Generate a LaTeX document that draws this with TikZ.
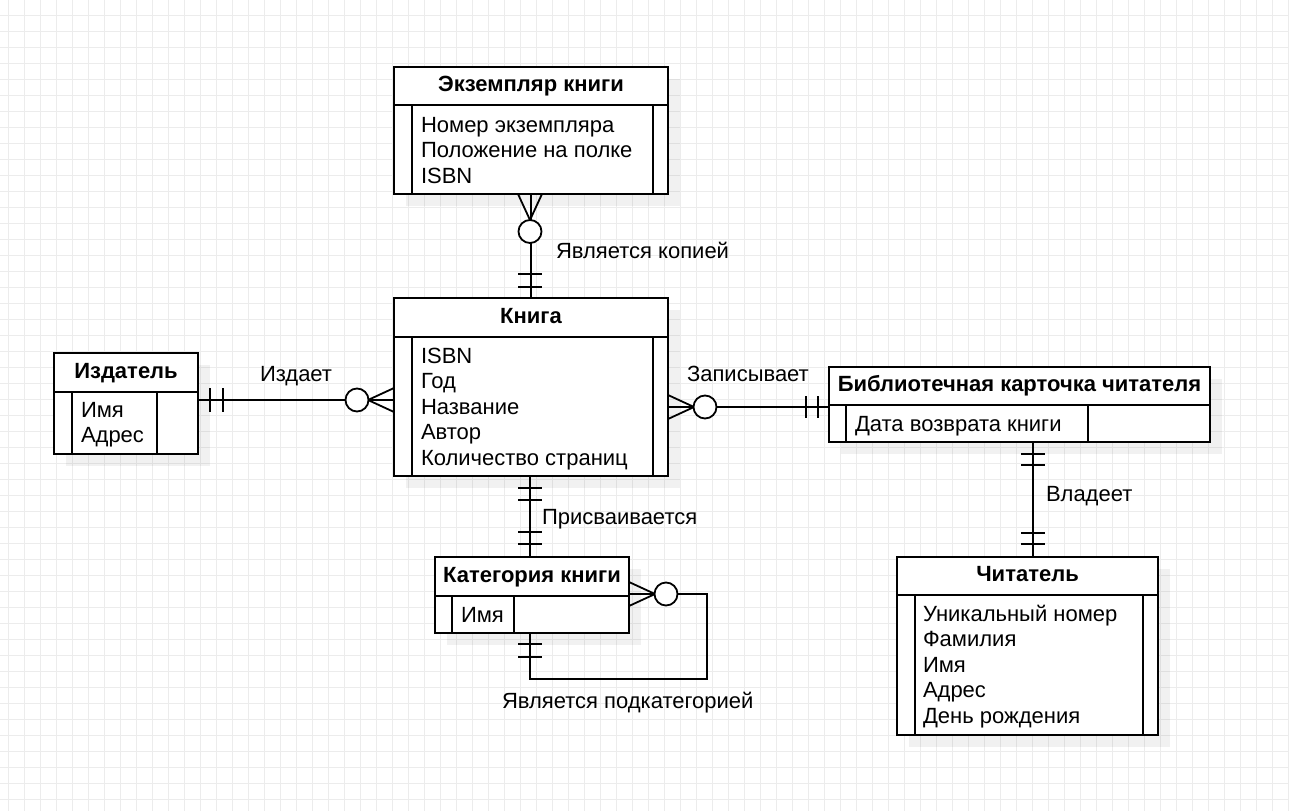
\documentclass[tikz,border=0pt]{standalone}
\usepackage{fontspec}
\setmainfont{Liberation Sans}
\usetikzlibrary{shadows}
\definecolor{gridc}{RGB}{236,236,236}
\tikzset{
  gridline/.style={draw=gridc, line width=1pt},
  ebox/.style={draw=black, fill=white, line width=1.8pt, outer sep=0pt, inner sep=0pt,
    anchor=north west,
    drop shadow={shadow xshift=12pt, shadow yshift=-12pt, fill=black, opacity=0.055}},
  eline/.style={draw=black, line width=1.8pt},
  conn/.style={draw=black, line width=1.8pt},
  txt/.style={font=\fontsize{22}{25}\selectfont, inner sep=0pt, outer sep=0pt},
  htxt/.style={txt, font=\fontsize{22}{25}\selectfont\bfseries, anchor=base},
  attr/.style={txt, anchor=base west},
  lbl/.style={txt, anchor=base west},
  zcirc/.style={draw=black, fill=white, line width=1.8pt},
}
% attributes: name prefix, x, first baseline, list
\newcommand{\attrlist}[4]{%
  \foreach \t [count=\i from 0] in {#4} {
    \node[attr] (#1-\i) at (#2,{#3+25.6*\i}) {\t};
  }%
}
\begin{document}
\begin{tikzpicture}[x=1pt,y=-1pt]
\useasboundingbox (0,0) rectangle (1289,811);
\fill[white] (0,0) rectangle (1289,811);
% grid
\foreach \gx in {8,24,...,1288} { \draw[gridline] (\gx,0) -- (\gx,811); }
\foreach \gy in {15,31,...,811} { \draw[gridline] (0,\gy) -- (1289,\gy); }

% ---------- entities ----------
% Экземпляр книги
\node[ebox, minimum width=274pt, minimum height=127pt] (ekz) at (394,67) {};
\draw[eline] (394,105) -- (668,105);
\draw[eline] (412,105) -- (412,194);
\draw[eline] (653,105) -- (653,194);
\node[htxt] (ekz-h) at (531,91.5) {Экземпляр книги};
\attrlist{ekza}{421}{132}{Номер экземпляра,Положение на полке,ISBN}

% Книга
\node[ebox, minimum width=274pt, minimum height=178pt] (kniga) at (394,298) {};
\draw[eline] (394,337) -- (668,337);
\draw[eline] (412,337) -- (412,476);
\draw[eline] (653,337) -- (653,476);
\node[htxt] (kniga-h) at (531,323.5) {Книга};
\attrlist{knigaa}{421}{363}{ISBN,Год,Название,Автор,Количество страниц}

% Издатель
\node[ebox, minimum width=144pt, minimum height=101pt] (izd) at (54,353) {};
\draw[eline] (54,392) -- (198,392);
\draw[eline] (72,392) -- (72,454);
\draw[eline] (157,392) -- (157,454);
\node[htxt] (izd-h) at (126,378.5) {Издатель};
\attrlist{izda}{81}{417}{Имя,Адрес}

% Категория книги
\node[ebox, minimum width=194pt, minimum height=76pt] (kat) at (435,557) {};
\draw[eline] (435,596) -- (629,596);
\draw[eline] (452,596) -- (452,633);
\draw[eline] (514,596) -- (514,633);
\node[htxt] (kat-h) at (532,582.5) {Категория книги};
\attrlist{kata}{461}{622}{Имя}

% Библиотечная карточка читателя
\node[ebox, minimum width=381pt, minimum height=75pt] (kart) at (829,367) {};
\draw[eline] (829,405) -- (1210,405);
\draw[eline] (846,405) -- (846,442);
\draw[eline] (1088,405) -- (1088,442);
\node[htxt] (kart-h) at (1019.5,391.5) {Библиотечная карточка читателя};
\attrlist{karta}{855}{431}{Дата возврата книги}

% Читатель
\node[ebox, minimum width=261pt, minimum height=178pt] (chit) at (897,557) {};
\draw[eline] (897,595) -- (1158,595);
\draw[eline] (915,595) -- (915,735);
\draw[eline] (1143,595) -- (1143,735);
\node[htxt] (chit-h) at (1027.5,581.5) {Читатель};
\attrlist{chita}{923}{621}{Уникальный номер,Фамилия,Имя,Адрес,День рождения}

% ---------- connectors ----------
% Экземпляр -- Книга
\draw[conn] (ekz.south |- 0,194) -- (kniga.north);
\draw[conn] (518,194) -- (530,220) -- (542,194);
\node[zcirc, circle, minimum size=23pt, inner sep=0pt] (c1) at (530,231.5) {};
\draw[conn] (518,274) -- (542,274);
\draw[conn] (518,287) -- (542,287);
\node[lbl] (l1) at (556,258) {Является копией};

% Издатель -- Книга
\draw[conn] (izd.east |- 0,400) -- (kniga.west |- 0,400);
\draw[conn] (210,388) -- (210,412);
\draw[conn] (223,388) -- (223,412);
\draw[conn] (394,388) -- (368,400) -- (394,412);
\node[zcirc, circle, minimum size=23pt, inner sep=0pt] (c2) at (357,400) {};
\node[lbl] (l2) at (260,381) {Издает};

% Книга -- Карточка
\draw[conn] (kniga.east |- 0,407) -- (kart.west |- 0,407);
\draw[conn] (668,395) -- (694,407) -- (668,419);
\node[zcirc, circle, minimum size=23pt, inner sep=0pt] (c3) at (705,407) {};
\draw[conn] (806,396) -- (806,418);
\draw[conn] (818,396) -- (818,418);
\node[lbl] (l3) at (687,381) {Записывает};

% Карточка -- Читатель
\draw[conn] (1033,442) -- (1033,557);
\draw[conn] (1021,454) -- (1045,454);
\draw[conn] (1021,465) -- (1045,465);
\draw[conn] (1021,533) -- (1045,533);
\draw[conn] (1021,544) -- (1045,544);
\node[lbl] (l4) at (1046,501) {Владеет};

% Книга -- Категория
\draw[conn] (530,476) -- (530,557);
\draw[conn] (518,488) -- (542,488);
\draw[conn] (518,500) -- (542,500);
\draw[conn] (518,532) -- (542,532);
\draw[conn] (518,544) -- (542,544);
\node[lbl] (l5) at (542,524) {Присваивается};

% Категория self relation
\coordinate (s1) at (707,594);
\coordinate (s2) at (707,679);
\coordinate (s3) at (530,679);
\draw[conn] (kat.east |- 0,594) -- (s1) -- (s2) -- (s3) -- (530,633);
\draw[conn] (629,582) -- (655,594) -- (629,606);
\node[zcirc, circle, minimum size=23pt, inner sep=0pt] (c6) at (666,594) {};
\draw[conn] (518,644) -- (542,644);
\draw[conn] (518,657) -- (542,657);
\node[lbl] (l6) at (502,708) {Является подкатегорией};
\end{tikzpicture}
\end{document}
